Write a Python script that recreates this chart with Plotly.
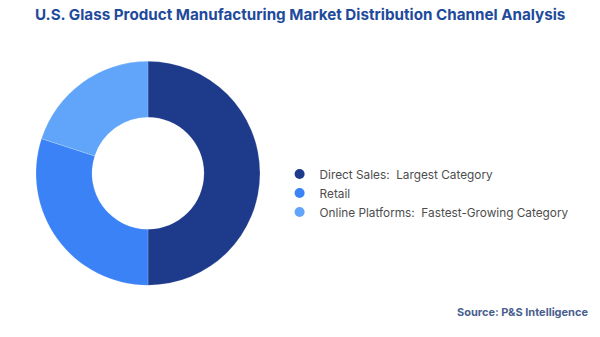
import plotly.graph_objects as go

categories = ["Direct Sales", "Retail", "Online Platforms"]
shares = [50, 30, 20]
legend_labels = ["Direct Sales:  Largest Category", "Retail", "Online Platforms:  Fastest-Growing Category"]
colors = ["#1e3a8a", "#3b82f6", "#60a5fa"]

title_text = "U.S. Glass Product Manufacturing Market Distribution Channel Analysis"
source_text = "Source: P&S Intelligence"

W, H = 600, 337

fig = go.Figure()
fig.add_trace(go.Pie(
    labels=categories, values=shares, hole=0.5, sort=False, direction="clockwise",
    rotation=0, marker=dict(colors=colors, line=dict(color="rgba(255,255,255,0.6)", width=0.3)),
    textinfo="none", hoverinfo="label+percent", showlegend=False,
    domain=dict(x=[36/W, 260/W], y=[1-285.5/H, 1-61/H]),
))
for lab, c in zip(legend_labels, colors):
    fig.add_trace(go.Scatter(x=[None], y=[None], mode="markers", name=lab,
                             marker=dict(symbol="circle", size=10, color=c)))

fig.update_layout(
    width=W, height=H, margin=dict(l=0, r=0, t=0, b=0),
    paper_bgcolor="white", plot_bgcolor="white",
    xaxis=dict(visible=False), yaxis=dict(visible=False),
    font=dict(family="Inter, Open Sans, sans-serif", color="#555555"),
    legend=dict(x=0.466, y=1-193/H, xanchor="left", yanchor="middle",
                font=dict(size=11.8, color="#4d4d4d"), tracegroupgap=0,
                itemwidth=30, bgcolor="rgba(0,0,0,0)"),
    annotations=[
        dict(text="<b>" + title_text + "</b>", x=0.5, y=1-15/H, xref="paper", yref="paper",
             xanchor="center", yanchor="middle", showarrow=False,
             font=dict(size=15.2, color="#1e4a9c", family="Inter, Open Sans, sans-serif")),
        dict(text="<b>" + source_text + "</b>", x=590/W, y=1-312/H, xref="paper", yref="paper",
             xanchor="right", yanchor="middle", showarrow=False,
             font=dict(size=11, color="#4a5f8f", family="Inter, Open Sans, sans-serif")),
    ],
)

fig.write_html("out.html")
